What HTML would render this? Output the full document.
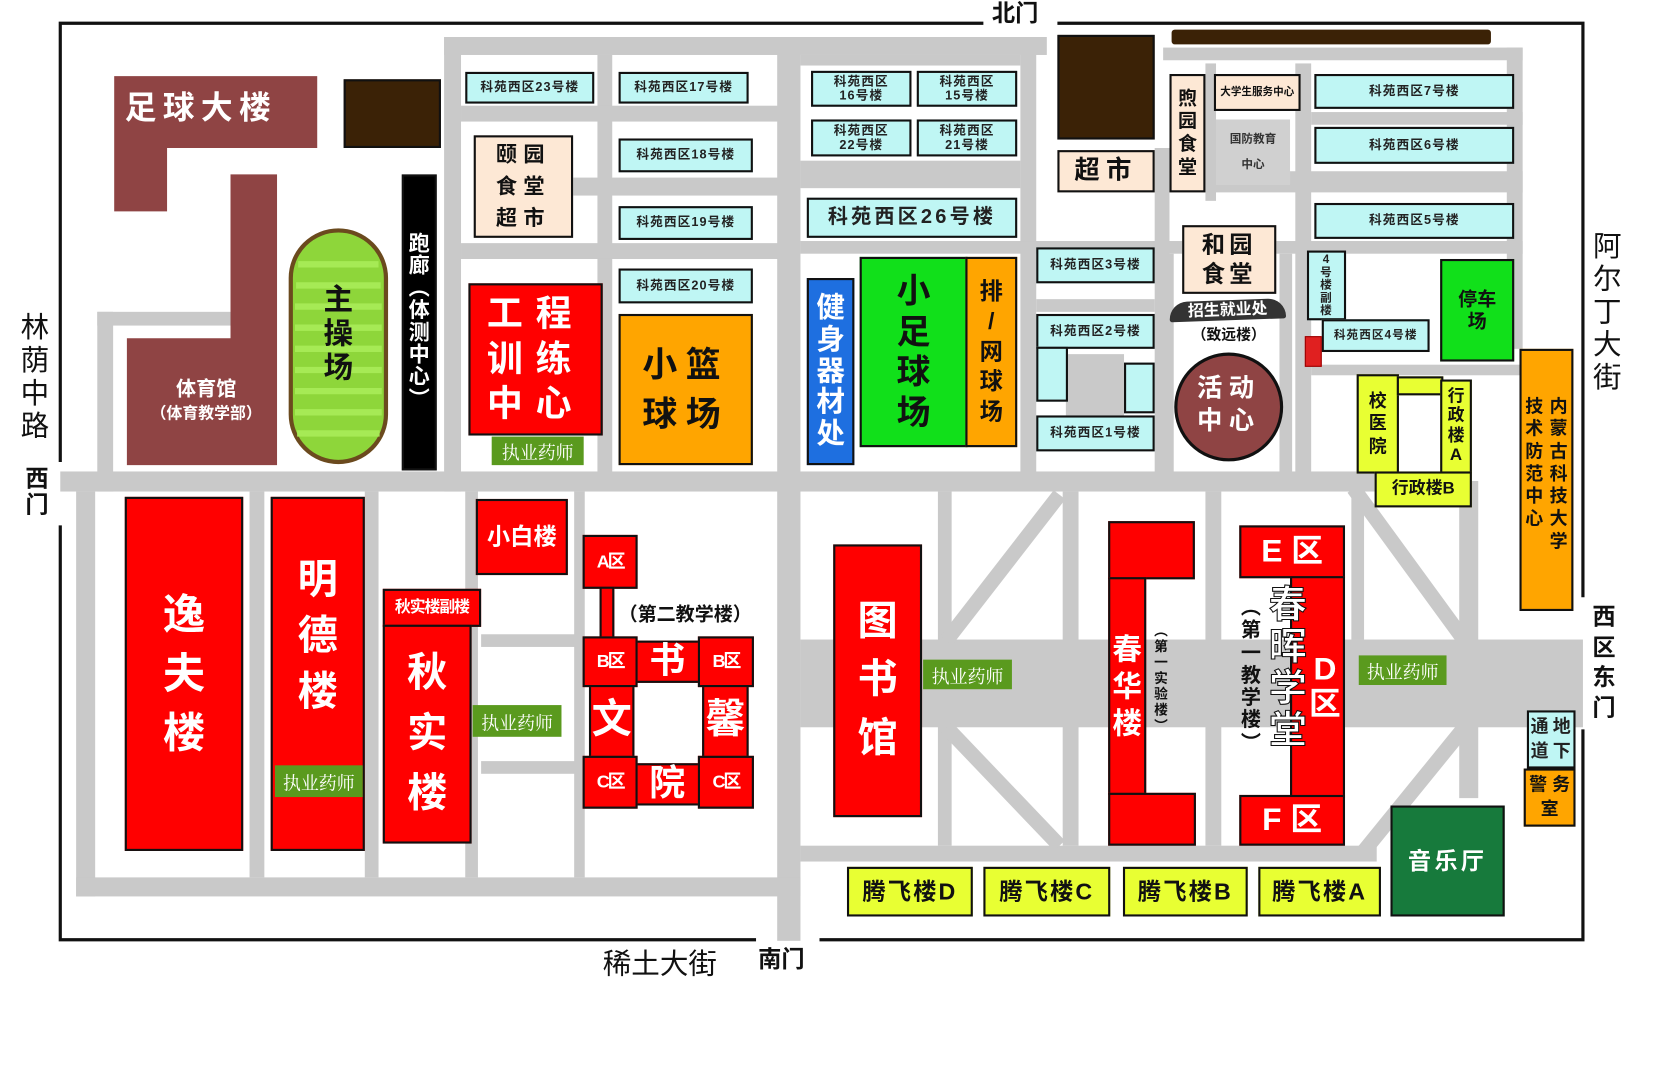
<!DOCTYPE html>
<html><head><meta charset="utf-8">
<style>
html,body{margin:0;padding:0;background:#fff;}
body{width:1658px;height:1074px;overflow:hidden;position:relative;}
#m{position:absolute;left:0;top:0;width:1568px;height:1016px;transform:scale(1.0574,1.0571);transform-origin:0 0;font-family:"Liberation Sans","Noto Sans CJK SC",sans-serif;}
.b{position:absolute;box-sizing:border-box;border:2px solid #111;display:flex;align-items:center;justify-content:center;text-align:center;font-weight:bold;line-height:1.15;}
.r{background:#f00;color:#fff;}
.c{background:#bff6f4;color:#222;font-size:12px;letter-spacing:1px;}
.y{background:#e8ff33;color:#111;}
.o{background:#ffa500;color:#111;}
.be{background:#fde8d5;color:#111;}
.t{position:absolute;font-weight:bold;color:#111;text-align:center;line-height:1.15;}
.g{position:absolute;background:#5a9a1e;color:#fff;font-family:"Liberation Serif","Noto Serif CJK SC",serif;font-size:17px;display:flex;align-items:center;justify-content:center;}
</style></head><body>
<div id="m">
<svg width="1568" height="1016" style="position:absolute;left:0;top:0">
<g fill="#c9c9c9">
<rect x="420" y="35" width="570" height="17"/>
<rect x="420" y="35" width="16" height="430"/>
<rect x="735" y="35" width="22" height="855"/>
<rect x="565" y="52" width="14" height="400"/>
<rect x="436" y="100" width="300" height="15"/>
<rect x="542" y="168" width="194" height="17"/>
<rect x="436" y="230" width="300" height="15"/>
<rect x="57" y="446" width="1245" height="19"/>
<rect x="92" y="295" width="15" height="170"/>
<rect x="92" y="295" width="128" height="13"/>
<rect x="72" y="465" width="18" height="383"/>
<rect x="72" y="830" width="685" height="18"/>
<rect x="236" y="465" width="14" height="365"/>
<rect x="345" y="465" width="13" height="365"/>
<rect x="440" y="465" width="12" height="365"/>
<rect x="543" y="465" width="10" height="365"/>
<rect x="455" y="600" width="90" height="12"/>
<rect x="455" y="720" width="90" height="12"/>
<rect x="965" y="35" width="15" height="415"/>
<rect x="757" y="52" width="208" height="10"/>
<rect x="757" y="152" width="208" height="26"/>
<rect x="757" y="228" width="683" height="12"/>
<rect x="1092" y="140" width="14" height="310"/>
<rect x="1140" y="60" width="10" height="130"/>
<rect x="1100" y="45" width="340" height="12"/>
<rect x="1240" y="106" width="200" height="12"/>
<rect x="1100" y="162" width="340" height="20"/>
<rect x="1225" y="60" width="15" height="390"/>
<rect x="980" y="283" width="112" height="12"/>
<rect x="1008" y="335" width="55" height="58"/>
<rect x="1425" y="45" width="15" height="285"/>
<rect x="1098" y="240" width="12" height="210"/>
<rect x="1210" y="240" width="12" height="210"/>
<rect x="1240" y="345" width="200" height="10"/>
<rect x="757" y="605" width="740" height="83"/>
<rect x="757" y="800" width="545" height="15"/>
<rect x="887" y="465" width="13" height="335"/>
<rect x="1005" y="465" width="15" height="335"/>
<rect x="1140" y="465" width="15" height="335"/>
<rect x="1380" y="455" width="18" height="300"/>
<rect x="1278" y="465" width="12" height="140"/>
</g>
<g stroke="#c9c9c9" stroke-width="14" fill="none">
<polyline points="1002,468 895,606"/>
<polyline points="895,688 1002,800"/>
<polyline points="1280,462 1385,606"/>
<polyline points="1385,688 1290,805"/>
</g>
<g stroke="#111" stroke-width="3" fill="none">
<polyline points="57,437 57,22 930,22"/>
<polyline points="57,497 57,889 715,889"/>
<polyline points="775,889 1497,889 1497,690"/>
<polyline points="1497,565 1497,22 1000,22"/>
</g>
<path d="M108,72H300V140H158V200H108Z" fill="#8f4444"/>
<path d="M218,165H262V440H120V320H218Z" fill="#8f4444"/>
<rect x="275" y="218" width="90" height="219" rx="45" fill="#8ed63a" stroke="#6b4a1e" stroke-width="4"/>
<g stroke="#a6ea55" stroke-width="6">
<line x1="282" y1="250" x2="358" y2="250"/><line x1="280" y1="270" x2="360" y2="270"/><line x1="279" y1="290" x2="361" y2="290"/><line x1="279" y1="310" x2="361" y2="310"/><line x1="279" y1="330" x2="361" y2="330"/><line x1="279" y1="350" x2="361" y2="350"/><line x1="279" y1="370" x2="361" y2="370"/><line x1="279" y1="390" x2="361" y2="390"/><line x1="281" y1="410" x2="359" y2="410"/>
</g>
<circle cx="1162" cy="385" r="50" fill="#8f4444" stroke="#111" stroke-width="3"/>
</svg>

<div class="t" style="left:118px;top:86px;font-size:30px;color:#fff;letter-spacing:6px">足球大楼</div>
<div class="t" style="left:120px;top:358px;width:150px;font-size:19px;color:#fff;">体育馆<br><span style="font-size:15px">（体育教学部）</span></div>
<div style="position:absolute;left:325px;top:75px;width:92px;height:65px;background:#3b2206;border:2px solid #111;box-sizing:border-box"></div>
<div class="t" style="left:300px;top:268px;font-size:28px;width:40px">主<br>操<br>场</div>
<div class="b" style="left:380px;top:165px;width:33px;height:280px;background:#000;color:#fff;font-size:20px;line-height:1.05">跑<br>廊<br>︵<br>体<br>测<br>中<br>心<br>︶</div>
<div class="t" style="left:18px;top:295px;font-size:27px;font-weight:normal;width:30px">林<br>荫<br>中<br>路</div>
<div class="t" style="left:20px;top:440px;font-size:22px;width:30px">西<br>门</div>
<div class="t" style="left:938px;top:0px;font-size:22px">北门</div>
<div class="t" style="left:1505px;top:218px;font-size:27px;font-weight:normal;width:30px">阿<br>尔<br>丁<br>大<br>街</div>
<div class="t" style="left:1502px;top:570px;font-size:22px;width:30px;line-height:1.3">西<br>区<br>东<br>门</div>
<div class="t" style="left:570px;top:897px;font-size:27px;font-weight:normal">稀土大街</div>
<div class="t" style="left:717px;top:895px;font-size:22px">南门</div>

<div class="b c" style="left:440px;top:68px;width:122px;height:30px">科苑西区23号楼</div>
<div class="b c" style="left:585px;top:68px;width:123px;height:30px">科苑西区17号楼</div>
<div class="b be" style="left:448px;top:128px;width:94px;height:97px;font-size:20px;line-height:1.5;letter-spacing:6px">颐园<br>食堂<br>超市</div>
<div class="b c" style="left:585px;top:131px;width:127px;height:32px">科苑西区18号楼</div>
<div class="b c" style="left:585px;top:195px;width:127px;height:32px">科苑西区19号楼</div>
<div class="b c" style="left:585px;top:254px;width:127px;height:33px">科苑西区20号楼</div>
<div class="b r" style="left:443px;top:268px;width:127px;height:144px;font-size:34px;letter-spacing:12px;line-height:1.25">工程<br>训练<br>中心</div>
<div class="g" style="left:465px;top:413px;width:87px;height:27px">执业药师</div>
<div class="b o" style="left:585px;top:297px;width:127px;height:143px;font-size:33px;letter-spacing:8px;line-height:1.4">小篮<br>球场</div>
<div class="b" style="left:763px;top:263px;width:45px;height:177px;background:#1e6fe0;color:#fff;font-size:27px;line-height:1.1">健<br>身<br>器<br>材<br>处</div>
<div class="b" style="left:813px;top:243px;width:102px;height:180px;background:#11e01a;color:#111;font-size:32px;line-height:1.2">小<br>足<br>球<br>场</div>
<div class="b o" style="left:913px;top:243px;width:49px;height:180px;font-size:22px;line-height:1.3">排<br>/<br>网<br>球<br>场</div>
<div class="b c" style="left:767px;top:67px;width:95px;height:34px;line-height:1.1">科苑西区<br>16号楼</div>
<div class="b c" style="left:867px;top:67px;width:95px;height:34px;line-height:1.1">科苑西区<br>15号楼</div>
<div class="b c" style="left:767px;top:113px;width:95px;height:35px;line-height:1.1">科苑西区<br>22号楼</div>
<div class="b c" style="left:867px;top:113px;width:95px;height:35px;line-height:1.1">科苑西区<br>21号楼</div>
<div class="b c" style="left:763px;top:187px;width:199px;height:38px;font-size:19px;letter-spacing:3px">科苑西区26号楼</div>

<div style="position:absolute;left:1000px;top:33px;width:92px;height:99px;background:#3b2206;border:2px solid #111;box-sizing:border-box"></div>
<div class="b be" style="left:1000px;top:142px;width:92px;height:40px;font-size:24px;letter-spacing:6px">超市</div>
<div style="position:absolute;left:1108px;top:28px;width:302px;height:14px;background:#3b2206;border-radius:3px"></div>
<div class="b be" style="left:1106px;top:70px;width:34px;height:112px;font-size:18px;line-height:1.2">煦<br>园<br>食<br>堂</div>
<div class="b be" style="left:1148px;top:70px;width:82px;height:35px;font-size:10px">大学生服务中心</div>
<div class="b" style="left:1150px;top:113px;width:70px;height:62px;border:none;background:#d0d0d0;color:#333;font-size:11px;line-height:2.2">国防教育<br>中心</div>
<div class="b c" style="left:1243px;top:70px;width:189px;height:33px">科苑西区7号楼</div>
<div class="b c" style="left:1243px;top:120px;width:189px;height:35px">科苑西区6号楼</div>
<div class="b c" style="left:1243px;top:192px;width:189px;height:34px">科苑西区5号楼</div>
<div class="b c" style="left:980px;top:234px;width:112px;height:34px">科苑西区3号楼</div>
<div class="b c" style="left:980px;top:297px;width:112px;height:33px">科苑西区2号楼</div>
<div style="position:absolute;left:980px;top:328px;width:30px;height:52px;background:#bff6f4;border:2px solid #111;box-sizing:border-box"></div>
<div style="position:absolute;left:1063px;top:343px;width:29px;height:48px;background:#bff6f4;border:2px solid #111;box-sizing:border-box"></div>
<div class="b c" style="left:980px;top:393px;width:112px;height:34px">科苑西区1号楼</div>
<div class="b be" style="left:1118px;top:213px;width:89px;height:65px;font-size:22px;letter-spacing:4px;line-height:1.25">和园<br>食堂</div>
<div class="t" style="left:1106px;top:284px;width:110px;font-size:15px;color:#fff;background:#333;border-radius:30px 30px 4px 4px;padding:1px 0;transform:rotate(-2deg)">招生就业处</div>
<div class="t" style="left:1120px;top:308px;width:84px;font-size:14px;color:#111">（致远楼）</div>
<div class="t" style="left:1118px;top:352px;width:88px;font-size:24px;color:#fff;letter-spacing:6px;line-height:1.3">活动<br>中心</div>
<div class="b c" style="left:1236px;top:237px;width:37px;height:66px;font-size:11px;line-height:1.1">4<br>号<br>楼<br>副<br>楼</div>
<div class="b c" style="left:1250px;top:302px;width:102px;height:31px;font-size:11px">科苑西区4号楼</div>
<div style="position:absolute;left:1234px;top:318px;width:14px;height:27px;background:#e02020;border:1px solid #900"></div>
<div class="b" style="left:1362px;top:245px;width:70px;height:97px;background:#11e01a;color:#111;font-size:18px">停车<br>场</div>
<div class="b y" style="left:1283px;top:354px;width:40px;height:94px;font-size:17px;line-height:1.25">校<br>医<br>院</div>
<div style="position:absolute;left:1321px;top:356px;width:44px;height:18px;background:#e8ff33;border:2px solid #111;box-sizing:border-box"></div>
<div class="b y" style="left:1362px;top:359px;width:30px;height:89px;font-size:16px;line-height:1.15">行<br>政<br>楼<br>A</div>
<div class="b y" style="left:1300px;top:446px;width:92px;height:34px;font-size:16px">行政楼B</div>
<div class="b o" style="left:1437px;top:330px;width:51px;height:248px;font-size:17px;line-height:1.25;align-items:flex-start;padding-top:42px;gap:6px"><span>技<br>术<br>防<br>范<br>中<br>心</span><span>内<br>蒙<br>古<br>科<br>技<br>大<br>学</span></div>
<div class="b c" style="left:1444px;top:672px;width:46px;height:55px;font-size:17px;line-height:1.3;gap:3px"><span>通<br>道</span><span>地<br>下</span></div>
<div class="b o" style="left:1441px;top:727px;width:49px;height:55px;font-size:17px;line-height:1.3">警 务<br>室</div>
<div class="b" style="left:1315px;top:762px;width:108px;height:105px;background:#177a3c;color:#fff;font-size:22px;letter-spacing:3px">音乐厅</div>
<div class="b y" style="left:801px;top:820px;width:119px;height:47px;font-size:22px;letter-spacing:2px">腾飞楼D</div>
<div class="b y" style="left:930px;top:820px;width:120px;height:47px;font-size:22px;letter-spacing:2px">腾飞楼C</div>
<div class="b y" style="left:1062px;top:820px;width:118px;height:47px;font-size:22px;letter-spacing:2px">腾飞楼B</div>
<div class="b y" style="left:1190px;top:820px;width:116px;height:47px;font-size:22px;letter-spacing:2px">腾飞楼A</div>

<div class="b r" style="left:788px;top:515px;width:84px;height:258px;font-size:38px;line-height:1.45">图<br>书<br>馆</div>
<div class="g" style="left:873px;top:624px;width:84px;height:28px">执业药师</div>
<div class="b r" style="left:1048px;top:493px;width:82px;height:55px"></div>
<div class="b r" style="left:1048px;top:546px;width:36px;height:206px;font-size:28px;line-height:1.25">春<br>华<br>楼</div>
<div class="b r" style="left:1048px;top:750px;width:83px;height:50px"></div>
<div class="t" style="left:1088px;top:590px;width:20px;font-size:13px;line-height:1.15">︵<br>第<br>一<br>实<br>验<br>楼<br>︶</div>
<div class="b r" style="left:1172px;top:497px;width:100px;height:50px;font-size:30px">E 区</div>
<div class="b r" style="left:1220px;top:545px;width:52px;height:210px;font-size:30px;padding-left:14px;line-height:1.1">D<br>区</div>
<div class="b r" style="left:1172px;top:752px;width:100px;height:48px;font-size:30px">F 区</div>
<div class="t" style="left:1198px;top:552px;width:40px;font-size:36px;color:#fff;-webkit-text-stroke:1px #111;line-height:1.1">春<br>晖<br>学<br>堂</div>
<div class="t" style="left:1170px;top:565px;width:26px;font-size:19px;line-height:1.12">︵<br>第<br>一<br>教<br>学<br>楼<br>︶</div>
<div class="g" style="left:1285px;top:620px;width:83px;height:28px">执业药师</div>

<div class="b r" style="left:118px;top:470px;width:112px;height:335px;font-size:40px;line-height:1.4">逸<br>夫<br>楼</div>
<div class="b r" style="left:256px;top:470px;width:89px;height:335px;font-size:38px;line-height:1.4;padding-bottom:70px">明<br>德<br>楼</div>
<div class="g" style="left:260px;top:724px;width:83px;height:30px">执业药师</div>
<div class="b r" style="left:362px;top:557px;width:93px;height:36px;font-size:15px;letter-spacing:-1px">秋实楼副楼</div>
<div class="b r" style="left:362px;top:591px;width:84px;height:207px;font-size:38px;line-height:1.5">秋<br>实<br>楼</div>
<div class="g" style="left:447px;top:667px;width:84px;height:30px">执业药师</div>
<div class="b r" style="left:450px;top:472px;width:87px;height:72px;font-size:22px">小白楼</div>
<div class="b r" style="left:551px;top:506px;width:52px;height:51px;font-size:17px;letter-spacing:-2px">A区</div>
<div style="position:absolute;left:567px;top:555px;width:14px;height:50px;background:#f00;border:2px solid #111;box-sizing:border-box"></div>
<div class="b r" style="left:598px;top:606px;width:66px;height:40px;font-size:34px">书</div>
<div class="b r" style="left:557px;top:647px;width:43px;height:70px;font-size:38px">文</div>
<div class="b r" style="left:664px;top:647px;width:44px;height:70px;font-size:38px">馨</div>
<div class="b r" style="left:598px;top:722px;width:66px;height:40px;font-size:34px">院</div>
<div class="b r" style="left:551px;top:602px;width:52px;height:48px;font-size:17px;letter-spacing:-2px">B区</div>
<div class="b r" style="left:660px;top:602px;width:53px;height:48px;font-size:17px;letter-spacing:-2px">B区</div>
<div class="b r" style="left:551px;top:715px;width:52px;height:50px;font-size:17px;letter-spacing:-2px">C区</div>
<div class="b r" style="left:660px;top:715px;width:53px;height:50px;font-size:17px;letter-spacing:-2px">C区</div>
<div class="t" style="left:585px;top:571px;font-size:18px">（第二教学楼）</div>
</div>
</body></html>
